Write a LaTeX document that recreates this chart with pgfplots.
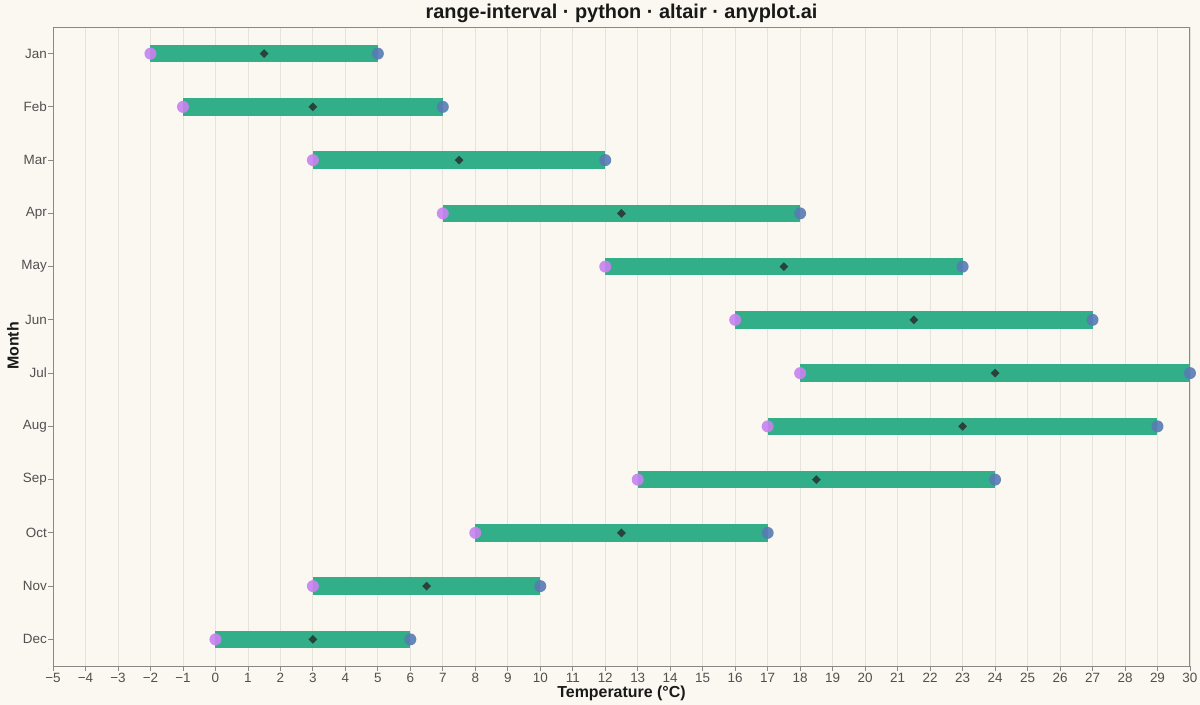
\documentclass[border=0pt]{standalone}
\usepackage{pgfplots}
\pgfplotsset{compat=1.18}
\usepackage{pgfplotstable}
\usepackage{fontspec}
\setmainfont{Liberation Sans}

\definecolor{bg}{RGB}{250,248,241}
\definecolor{gridcol}{RGB}{230,227,219}
\definecolor{axisgray}{RGB}{136,136,136}
\definecolor{ticktext}{RGB}{80,80,80}
\definecolor{barcol}{RGB}{50,174,137}
\definecolor{mincol}{RGB}{200,130,240}
\definecolor{maxcol}{RGB}{88,122,180}
\definecolor{midcol}{RGB}{40,40,40}

% month index, low, mid, high (degrees C)
\pgfplotstableread{
m lo mid hi
0 -2 1.5 5
1 -1 3 7
2 3 7.5 12
3 7 12.5 18
4 12 17.5 23
5 16 21.5 27
6 18 24 30
7 17 23 29
8 13 18.5 24
9 8 12.5 17
10 3 6.5 10
11 0 3 6
}\temps

\begin{document}
\begin{tikzpicture}
\useasboundingbox (0,0) rectangle (1200bp,705bp);
\fill[bg] (0,0) rectangle (1200bp,705bp);
\begin{axis}[
    at={(53bp,39bp)}, anchor=south west,
    scale only axis,
    width=1137bp, height=639bp,
    xmin=-5, xmax=30,
    ymin=-0.5, ymax=11.5,
    y dir=reverse,
    clip=false,
    xtick={-5,...,30},
    xticklabels={−5,−4,−3,−2,−1,0,1,2,3,4,5,6,7,8,9,10,11,12,13,14,15,16,17,18,19,20,21,22,23,24,25,26,27,28,29,30},
    ytick={0,...,11},
    yticklabels={Jan,Feb,Mar,Apr,May,Jun,Jul,Aug,Sep,Oct,Nov,Dec},
    tick pos=left,
    tick align=outside,
    major tick length=5bp,
    tick style={draw=axisgray, line width=0.8bp},
    axis line style={draw=axisgray, line width=1bp},
    xmajorgrids,
    major grid style={draw=gridcol, line width=0.8bp},
    ticklabel style={font=\fontsize{13.5}{16}\selectfont, text=ticktext},
    xticklabel style={inner sep=2bp},
    yticklabel style={inner sep=1bp},
]
% bars from low to high
\addplot[draw=none, mark=none,
    error bars/.cd, x dir=both, x explicit, error mark=none,
    error bar style={draw=barcol, line width=17.5bp}]
    table[x=mid, y=m,
          x error plus expr=\thisrow{hi}-\thisrow{mid},
          x error minus expr=\thisrow{mid}-\thisrow{lo}] {\temps};
% low ends
\addplot[only marks, mark=*, mark size=6bp,
    mark options={draw opacity=0, fill=mincol, fill opacity=0.9}]
    table[x=lo, y=m] {\temps};
% high ends
\addplot[only marks, mark=*, mark size=6bp,
    mark options={draw opacity=0, fill=maxcol, fill opacity=0.9}]
    table[x=hi, y=m] {\temps};
% midpoints
\addplot[only marks, mark=square*, mark size=3.1bp,
    mark options={rotate=45, draw opacity=0, fill=midcol, fill opacity=0.8}]
    table[x=mid, y=m] {\temps};
\end{axis}
\node[font=\fontsize{20}{24}\selectfont\bfseries, text=black!90] at (621.5bp,692bp)
    {range-interval · python · altair · anyplot.ai};
\node[font=\fontsize{16}{19}\selectfont\bfseries, text=black!90] at (621.5bp,12bp)
    {Temperature (°C)};
\node[font=\fontsize{16}{19}\selectfont\bfseries, text=black!90, rotate=90] at (13bp,359bp)
    {Month};
\end{tikzpicture}
\end{document}
